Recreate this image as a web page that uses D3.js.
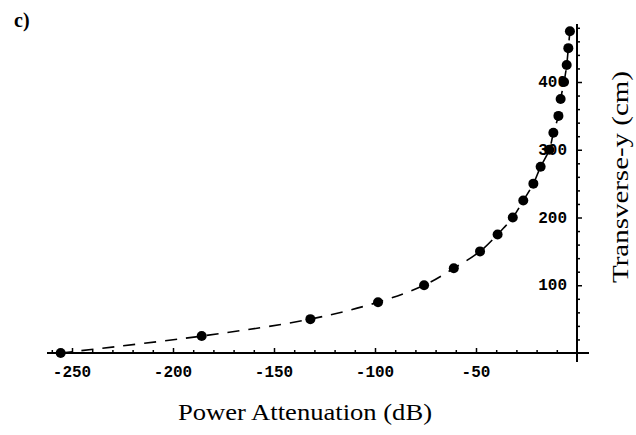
<!DOCTYPE html>
<html>
<head>
<meta charset="utf-8">
<script src="https://cdn.jsdelivr.net/npm/d3@7"></script>
<style>
  body { margin: 0; background: #fff; }
  svg { display: block; }
</style>
</head>
<body>
<script>
// Data: attenuation (dB) vs transverse-y (cm)
var attenuation = [-255.6, -185.8, -132, -98.5, -75.7, -61, -48, -39.3, -31.8, -26.6,
                   -21.6, -18, -13.7, -11.7, -9.2, -8.1, -6.4, -5.1, -4.3, -3.5]
var transverse = [0, 25, 50, 75, 100, 125, 150, 175, 200, 225,
                  250, 275, 300, 325, 350, 375, 400, 425, 450, 475]
var xTicks = [-250, -200, -150, -100, -50]
var yTicks = [100, 200, 300, 400]

var width = 636
var height = 435

var svg = d3.select("body").append("svg")
    .attr("width", width)
    .attr("height", height)

// scales (0 dB sits on the y axis, 0 cm on the x axis)
var x = d3.scaleLinear().domain([-250, 0]).range([72, 577])
var y = d3.scaleLinear().domain([0, 400]).range([353, 82])

var points = attenuation.map((a, i) => [a, transverse[i]])

// x axis: ticks point up into the plot
var xAxis = svg.append("g")
    .attr("transform", "translate(0," + y(0) + ")")
    .call(d3.axisTop(x).tickValues(d3.range(-260, 0, 10)).tickSize(3).tickFormat(""))
xAxis.select(".domain").remove()
xAxis.append("line")
    .attr("x1", 47).attr("x2", 589)
    .attr("stroke", "#000").attr("stroke-width", 2)
xAxis.selectAll(".tick line")
    .attr("stroke-width", 1.5)
    .attr("y2", d => (d % 50 === 0) ? -5 : -3)

svg.append("g").selectAll("text")
    .data(xTicks)
    .enter().append("text")
    .attr("x", d => x(d))
    .attr("y", y(0) + 24)
    .attr("text-anchor", "middle")
    .style("font-family", "'Liberation Mono', 'DejaVu Sans Mono', monospace")
    .style("font-weight", "bold")
    .style("font-size", "16px")
    .text(d => d)

// y axis: ticks point right, away from the data
var yAxis = svg.append("g")
    .attr("transform", "translate(" + x(0) + ",0)")
    .call(d3.axisRight(y).tickValues(d3.range(20, 485, 20)).tickSize(3).tickFormat(""))
yAxis.select(".domain").remove()
yAxis.append("line")
    .attr("y1", 24).attr("y2", 362)
    .attr("stroke", "#000").attr("stroke-width", 2)
yAxis.selectAll(".tick line")
    .attr("stroke-width", 1.5)
    .attr("x2", d => (d % 100 === 0) ? 5 : 3)

svg.append("g").selectAll("text")
    .data(yTicks)
    .enter().append("text")
    .attr("x", x(0) - 10)
    .attr("y", d => y(d) + 5)
    .attr("text-anchor", "end")
    .style("font-family", "'Liberation Mono', 'DejaVu Sans Mono', monospace")
    .style("font-weight", "bold")
    .style("font-size", "16px")
    .text(d => d)

// dashed curve through the points
var line = d3.line()
    .x(d => x(d[0]))
    .y(d => y(d[1]))
    .curve(d3.curveCatmullRom)

svg.append("path")
    .datum(points)
    .attr("d", line)
    .attr("fill", "none")
    .attr("stroke", "#000")
    .attr("stroke-width", 1.6)
    .attr("stroke-dasharray", "12,9")

svg.append("g").selectAll("circle")
    .data(points)
    .enter().append("circle")
    .attr("cx", d => x(d[0]))
    .attr("cy", d => y(d[1]))
    .attr("r", 5)
    .attr("fill", "#000")

// axis titles
svg.append("text")
    .attr("x", 178)
    .attr("y", 420)
    .attr("textLength", 254)
    .attr("lengthAdjust", "spacingAndGlyphs")
    .style("font-family", "'Liberation Serif', 'DejaVu Serif', serif")
    .style("font-size", "23px")
    .text("Power Attenuation (dB)")

svg.append("text")
    .attr("transform", "translate(628,283) rotate(-90)")
    .attr("textLength", 212)
    .attr("lengthAdjust", "spacingAndGlyphs")
    .style("font-family", "'Liberation Serif', 'DejaVu Serif', serif")
    .style("font-size", "23px")
    .text("Transverse-y (cm)")

svg.append("text")
    .attr("x", 14)
    .attr("y", 27)
    .style("font-family", "'Liberation Serif', 'DejaVu Serif', serif")
    .style("font-weight", "bold")
    .style("font-size", "20px")
    .text("c)")
</script>
</body>
</html>
